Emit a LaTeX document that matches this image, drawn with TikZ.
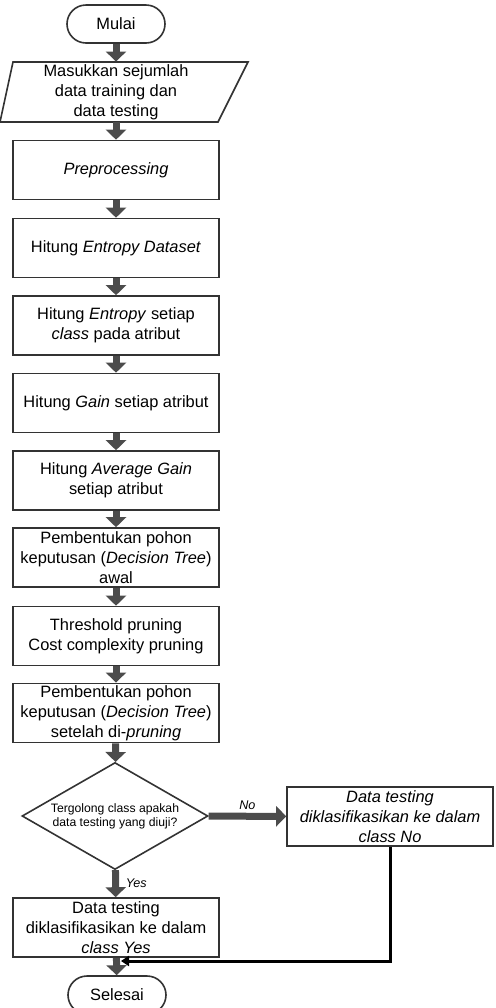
\documentclass[tikz,border=0pt]{standalone}
\usepackage{fontspec}
\setmainfont{Liberation Sans}
\usetikzlibrary{arrows.meta, shapes.geometric}

\begin{document}
\begin{tikzpicture}[x=0.5pt, y=-0.5pt,
    box/.style={draw=black!80, line width=0.8pt, minimum width=103pt, minimum height=29.5pt,
                align=center, inner sep=1pt, font=\fontsize{8.2}{10}\selectfont},
    term/.style={box, rounded corners=9.5pt, minimum width=49pt, minimum height=19pt},
    flow/.style={line width=3.5pt, black!70, -{Triangle[width=10pt, length=5pt]}},
    lbl/.style={font=\fontsize{6.3}{7}\selectfont\itshape}]
    \useasboundingbox (0,0) rectangle (495,1008);

    % Start and input
    \node[term] (mulai) at (116,24) {Mulai};
    \draw[draw=black!80, line width=0.8pt] (13,62) -- (248,62) -- (218,122) -- (0,122) -- cycle;
    \node[box, draw=none] (input) at (116,92) {Masukkan sejumlah\\data training dan\\data testing};

    % Process steps
    \node[box] (prep)   at (116,170)   {\textit{Preprocessing}};
    \node[box] (entds)  at (116,248)   {Hitung \textit{Entropy Dataset}};
    \node[box] (entcls) at (116,325.5) {Hitung \textit{Entropy} setiap\\\textit{class} pada atribut};
    \node[box] (gain)   at (116,403)   {Hitung \textit{Gain} setiap atribut};
    \node[box] (avg)    at (116,480.5) {Hitung \textit{Average Gain}\\setiap atribut};
    \node[box] (tree)   at (116,557.5) {Pembentukan pohon\\keputusan (\textit{Decision Tree})\\awal};
    \node[box] (prune)  at (116,636)   {Threshold pruning\\Cost complexity pruning};
    \node[box] (pruned) at (116,713)   {Pembentukan pohon\\keputusan (\textit{Decision Tree})\\setelah di-\textit{pruning}};

    % Decision
    \node[draw=black!80, line width=0.8pt, diamond, aspect=1.74, inner sep=0pt,
          minimum width=93pt, minimum height=53.5pt, align=center,
          font=\fontsize{6.1}{7}\selectfont] (cek) at (115,816)
          {Tergolong class apakah\\data testing yang diuji?};
    \node[box, font=\fontsize{8.2}{10}\selectfont\itshape] (kelasno) at (390,816.5)
          {Data testing\\diklasifikasikan ke dalam\\class No};
    \node[box] (kelasyes) at (116,927.5) {Data testing\\diklasifikasikan ke dalam\\\textit{class Yes}};

    % End
    \node[term] (selesai) at (117,995) {Selesai};
    \coordinate (gabung) at (121,961);

    % Arrows
    \draw[flow] (mulai) -- (input);
    \draw[flow] (input) -- (prep);
    \draw[flow] (prep) -- (entds);
    \draw[flow] (entds) -- (entcls);
    \draw[flow] (entcls) -- (gain);
    \draw[flow] (gain) -- (avg);
    \draw[flow] (avg) -- (tree);
    \draw[flow] (tree) -- (prune);
    \draw[flow] (prune) -- (pruned);
    \draw[flow] (pruned) -- (cek);
    \draw[flow] (cek) -- (kelasno) node[lbl, midway, above=-2pt, black] (no) {No};
    \draw[flow] (cek) -- (kelasyes) node[lbl, midway, right=0pt, black] (yes) {Yes};
    \draw[flow] (kelasyes) -- (selesai);
    \draw[line width=1.5pt, black, -{Triangle[width=5pt, length=4pt]}] (kelasno.south) |- (gabung);
\end{tikzpicture}
\end{document}
